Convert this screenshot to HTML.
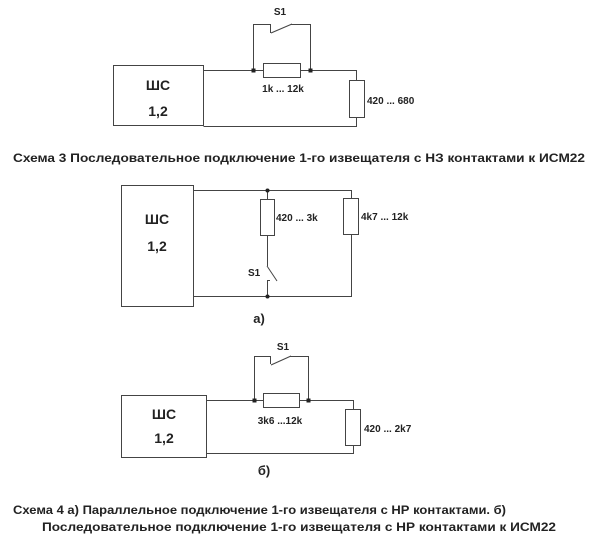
<!DOCTYPE html>
<html><head><meta charset="utf-8"><style>
html,body{margin:0;padding:0;background:#fff;}
svg{display:block;}
text{font-family:"Liberation Sans",Arial,sans-serif;font-weight:bold;fill:#222;}
</style></head><body>
<svg width="600" height="552" viewBox="0 0 600 552" xmlns="http://www.w3.org/2000/svg">
<g stroke="#444" stroke-width="1" fill="none">
<!-- Diagram 1 -->
<rect x="113.5" y="65.5" width="90" height="60" fill="#fff"/>
<polyline points="203.5,70.5 263,70.5"/>
<rect x="263.5" y="63.5" width="37" height="14" fill="#fff"/>
<polyline points="300.5,70.5 356.5,70.5 356.5,80"/>
<rect x="349.5" y="80.5" width="15" height="37" fill="#fff"/>
<polyline points="356.5,117.5 356.5,126.5 203.5,126.5"/>
<polyline points="253.5,70.5 253.5,24.5 270.5,24.5 270.5,33"/>
<line x1="271" y1="33" x2="292" y2="24"/>
<polyline points="291,24.5 310.5,24.5 310.5,70.5"/>
<!-- Diagram 2 -->
<rect x="121.5" y="185.5" width="72" height="121" fill="#fff"/>
<polyline points="193.5,190.5 351.5,190.5 351.5,198"/>
<rect x="343.5" y="198.5" width="15" height="36" fill="#fff"/>
<polyline points="351.5,234.5 351.5,296.5 193.5,296.5"/>
<line x1="267.5" y1="190.5" x2="267.5" y2="199"/>
<rect x="260.5" y="199.5" width="14" height="36" fill="#fff"/>
<line x1="267.5" y1="235.5" x2="267.5" y2="266"/>
<line x1="267" y1="266" x2="277" y2="281"/>
<polyline points="270,280.5 267.5,280.5 267.5,296.5"/>
<!-- Diagram 3 -->
<rect x="121.5" y="395.5" width="85" height="62" fill="#fff"/>
<polyline points="206.5,400.5 263,400.5"/>
<rect x="263.5" y="393.5" width="36" height="14" fill="#fff"/>
<polyline points="299.5,400.5 353.5,400.5 353.5,409"/>
<rect x="345.5" y="409.5" width="15" height="36" fill="#fff"/>
<polyline points="353.5,445.5 353.5,453.5 206.5,453.5"/>
<polyline points="254.5,400.5 254.5,356.5 270.5,356.5 270.5,364"/>
<line x1="271" y1="365" x2="291" y2="356"/>
<polyline points="290,356.5 308.5,356.5 308.5,400.5"/>
</g>
<g fill="#222">
<rect x="251.5" y="68.5" width="4" height="4"/><rect x="308.5" y="68.5" width="4" height="4"/>
<circle cx="267.5" cy="190.5" r="2"/><circle cx="267.5" cy="296.5" r="2"/>
<rect x="252.5" y="398.5" width="4" height="4"/><rect x="306.5" y="398.5" width="4" height="4"/>
</g>
<!-- Labels -->
<text x="158" y="90" font-size="14" text-anchor="middle">ШС</text>
<text x="158" y="116" font-size="14" text-anchor="middle">1,2</text>
<text x="280" y="15" font-size="10" text-anchor="middle">S1</text>
<text x="283" y="92" font-size="10" text-anchor="middle">1k ... 12k</text>
<text x="367" y="104" font-size="10">420 ... 680</text>
<text x="157" y="224" font-size="14" text-anchor="middle">ШС</text>
<text x="157" y="251" font-size="14" text-anchor="middle">1,2</text>
<text x="276" y="221" font-size="10">420 ... 3k</text>
<text x="361" y="220" font-size="10">4k7 ... 12k</text>
<text x="248" y="276" font-size="10">S1</text>
<text x="259" y="323" font-size="13" text-anchor="middle">а)</text>
<text x="164" y="419" font-size="14" text-anchor="middle">ШС</text>
<text x="164" y="443" font-size="14" text-anchor="middle">1,2</text>
<text x="283" y="350" font-size="10" text-anchor="middle">S1</text>
<text x="280" y="424" font-size="10" text-anchor="middle">3k6 ...12k</text>
<text x="364" y="432" font-size="10">420 ... 2k7</text>
<text x="264" y="475" font-size="13" text-anchor="middle">б)</text>
<text x="13" y="162" font-size="12" textLength="572" lengthAdjust="spacingAndGlyphs">Схема 3 Последовательное подключение 1-го извещателя с НЗ контактами к ИСМ22</text>
<text x="13" y="514" font-size="12" textLength="493" lengthAdjust="spacingAndGlyphs">Схема 4 а) Параллельное подключение 1-го извещателя с НР контактами. б)</text>
<text x="42" y="531" font-size="12" textLength="514" lengthAdjust="spacingAndGlyphs">Последовательное подключение 1-го извещателя с НР контактами к ИСМ22</text>
</svg>
</body></html>
